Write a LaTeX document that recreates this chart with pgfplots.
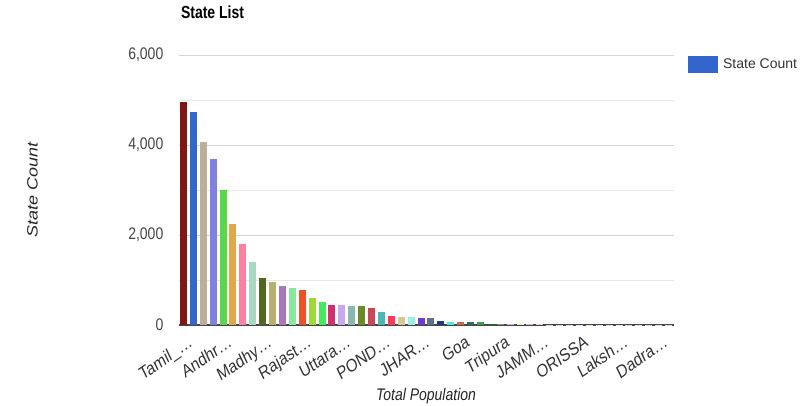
\documentclass[border=0pt]{standalone}
\usepackage{pgfplots}
\pgfplotsset{compat=1.18}
\usepackage{fontspec}
\setmainfont{Liberation Sans}
\definecolor{c0}{HTML}{7F1717}
\definecolor{c1}{HTML}{3366CC}
\definecolor{c2}{HTML}{BCAE98}
\definecolor{c3}{HTML}{8080E0}
\definecolor{c4}{HTML}{5AD84A}
\definecolor{c5}{HTML}{E0A848}
\definecolor{c6}{HTML}{FF80A0}
\definecolor{c7}{HTML}{A8D8C0}
\definecolor{c8}{HTML}{506820}
\definecolor{c9}{HTML}{B8B070}
\definecolor{c10}{HTML}{A878B8}
\definecolor{c11}{HTML}{88E8A0}
\definecolor{c12}{HTML}{F05028}
\definecolor{c13}{HTML}{A0D838}
\definecolor{c14}{HTML}{48E860}
\definecolor{c15}{HTML}{D03070}
\definecolor{c16}{HTML}{C8A8F0}
\definecolor{c17}{HTML}{88B8B0}
\definecolor{c18}{HTML}{6B8B28}
\definecolor{c19}{HTML}{C84858}
\definecolor{c20}{HTML}{48B8B0}
\definecolor{c21}{HTML}{FF3858}
\definecolor{c22}{HTML}{D8C898}
\definecolor{c23}{HTML}{98F0E8}
\definecolor{c24}{HTML}{7038D0}
\definecolor{c25}{HTML}{607088}
\definecolor{c26}{HTML}{203890}
\definecolor{c27}{HTML}{48F0D0}
\definecolor{c28}{HTML}{C07048}
\definecolor{c29}{HTML}{386858}
\definecolor{c30}{HTML}{38A048}
\definecolor{c31}{HTML}{306838}
\definecolor{c32}{HTML}{70A078}
\definecolor{c33}{HTML}{F0A8D8}
\definecolor{c34}{HTML}{E0F0B0}
\definecolor{c35}{HTML}{E0B8C8}
\definecolor{c36}{HTML}{E8D0E8}
\definecolor{c37}{HTML}{D8D8D8}
\definecolor{c38}{HTML}{C8D8F0}
\definecolor{c39}{HTML}{F0D0D8}
\definecolor{c40}{HTML}{E0E0F0}
\definecolor{c41}{HTML}{F0E0D0}
\definecolor{c42}{HTML}{D8E8F0}
\definecolor{c43}{HTML}{E8D8E0}
\definecolor{c44}{HTML}{F0E8D8}
\definecolor{c45}{HTML}{D0D8E8}
\definecolor{c46}{HTML}{E8E0F0}
\definecolor{c47}{HTML}{E0D0D8}
\definecolor{c48}{HTML}{D8E0E8}
\definecolor{c49}{HTML}{E8D8D8}
\begin{document}
\begin{tikzpicture}
\useasboundingbox (0,0) rectangle (809pt,405pt);
\begin{axis}[
  at={(178.5pt,80pt)}, anchor=south west,
  scale only axis, width=495pt, height=270pt,
  xmin=-0.5, xmax=49.5, ymin=0, ymax=6000,
  ybar, bar width=7pt,
  B/.style={fill=#1, draw=none, bar shift=0pt, forget plot},
  axis line style={draw=none},
  tick style={draw=none},
  major tick length=0pt, minor tick length=0pt,
  ytick={0,2000,4000,6000}, minor ytick={1000,3000,5000},
  ymajorgrids, yminorgrids,
  major grid style={draw=black!17, line width=1pt},
  minor grid style={draw=black!9, line width=1pt},
  extra y ticks={0}, extra y tick labels={},
  extra y tick style={ymajorgrids=true, major grid style={draw=black!72, line width=1.6pt}},
  scaled y ticks=false,
  /pgf/number format/1000 sep={,},
  /pgf/number format/assume math mode=true,
  yticklabel style={font=\fontsize{14}{16}\selectfont, text=black!73, yscale=1.2, anchor=east, inner sep=0pt, xshift=-15pt},
  xtick={0,4,...,48},
  xticklabels={Tamil\_…, Andhr…, Madhy…, Rajast…, Uttara…, POND…, JHAR…, Goa, Tripura, JAMM…, ORISSA, Laksh…, Dadra…},
  xticklabel style={font=\fontsize{15}{17}\selectfont, text=black!80, yscale=1.2, rotate=30, anchor=north east, inner sep=0pt, xshift=0pt, yshift=-9pt},
  xlabel={Total Population},
  xlabel style={at={(axis description cs:0.5,0)}, anchor=center, yshift=-71pt, font=\itshape\fontsize{14}{16}\selectfont, text=black!85, yscale=1.2},
  ylabel={State Count},
  ylabel style={at={(axis description cs:-0.295,0.5)}, anchor=center, font=\itshape\fontsize{15}{17}\selectfont, text=black!85, xscale=1.2},
  title={State List},
  title style={at={(axis description cs:0,1)}, anchor=base west, xshift=-1pt, yshift=31pt, font=\bfseries\fontsize{14}{16}\selectfont, yscale=1.25},
  legend style={at={(axis description cs:1,1)}, anchor=north west, xshift=14pt, yshift=-1pt, draw=none, fill=none, inner sep=0pt, font=\fontsize{14}{16}\selectfont, text=black!80, nodes={inner sep=0pt}, column sep=6pt},
]
\addplot[B=c0] coordinates {(0,4960)};
\addplot[B=c1] coordinates {(1,4730)};
\addplot[B=c2] coordinates {(2,4070)};
\addplot[B=c3] coordinates {(3,3680)};
\addplot[B=c4] coordinates {(4,3000)};
\addplot[B=c5] coordinates {(5,2250)};
\addplot[B=c6] coordinates {(6,1800)};
\addplot[B=c7] coordinates {(7,1400)};
\addplot[B=c8] coordinates {(8,1040)};
\addplot[B=c9] coordinates {(9,950)};
\addplot[B=c10] coordinates {(10,875)};
\addplot[B=c11] coordinates {(11,815)};
\addplot[B=c12] coordinates {(12,780)};
\addplot[B=c13] coordinates {(13,610)};
\addplot[B=c14] coordinates {(14,515)};
\addplot[B=c15] coordinates {(15,450)};
\addplot[B=c16] coordinates {(16,445)};
\addplot[B=c17] coordinates {(17,425)};
\addplot[B=c18] coordinates {(18,420)};
\addplot[B=c19] coordinates {(19,385)};
\addplot[B=c20] coordinates {(20,290)};
\addplot[B=c21] coordinates {(21,190)};
\addplot[B=c22] coordinates {(22,185)};
\addplot[B=c23] coordinates {(23,185)};
\addplot[B=c24] coordinates {(24,150)};
\addplot[B=c25] coordinates {(25,148)};
\addplot[B=c26] coordinates {(26,90)};
\addplot[B=c27] coordinates {(27,67)};
\addplot[B=c28] coordinates {(28,62)};
\addplot[B=c29] coordinates {(29,60)};
\addplot[B=c30] coordinates {(30,60)};
\addplot[B=c31] coordinates {(31,32)};
\addplot[B=c32] coordinates {(32,28)};
\addplot[B=c33] coordinates {(33,20)};
\addplot[B=c34] coordinates {(34,15)};
\addplot[B=c35] coordinates {(35,14)};
\addplot[B=c36] coordinates {(36,12)};
\addplot[B=c37] coordinates {(37,11)};
\addplot[B=c38] coordinates {(38,10)};
\addplot[B=c39] coordinates {(39,10)};
\addplot[B=c40] coordinates {(40,9)};
\addplot[B=c41] coordinates {(41,8)};
\addplot[B=c42] coordinates {(42,8)};
\addplot[B=c43] coordinates {(43,7)};
\addplot[B=c44] coordinates {(44,6)};
\addplot[B=c45] coordinates {(45,6)};
\addplot[B=c46] coordinates {(46,5)};
\addplot[B=c47] coordinates {(47,5)};
\addplot[B=c48] coordinates {(48,4)};
\addplot[B=c49] coordinates {(49,3)};
\addlegendimage{legend image code/.code={\fill[c1] (0pt,-8pt) rectangle (29pt,8pt);}}
\addlegendentry{State Count}
\end{axis}
\end{tikzpicture}
\end{document}
